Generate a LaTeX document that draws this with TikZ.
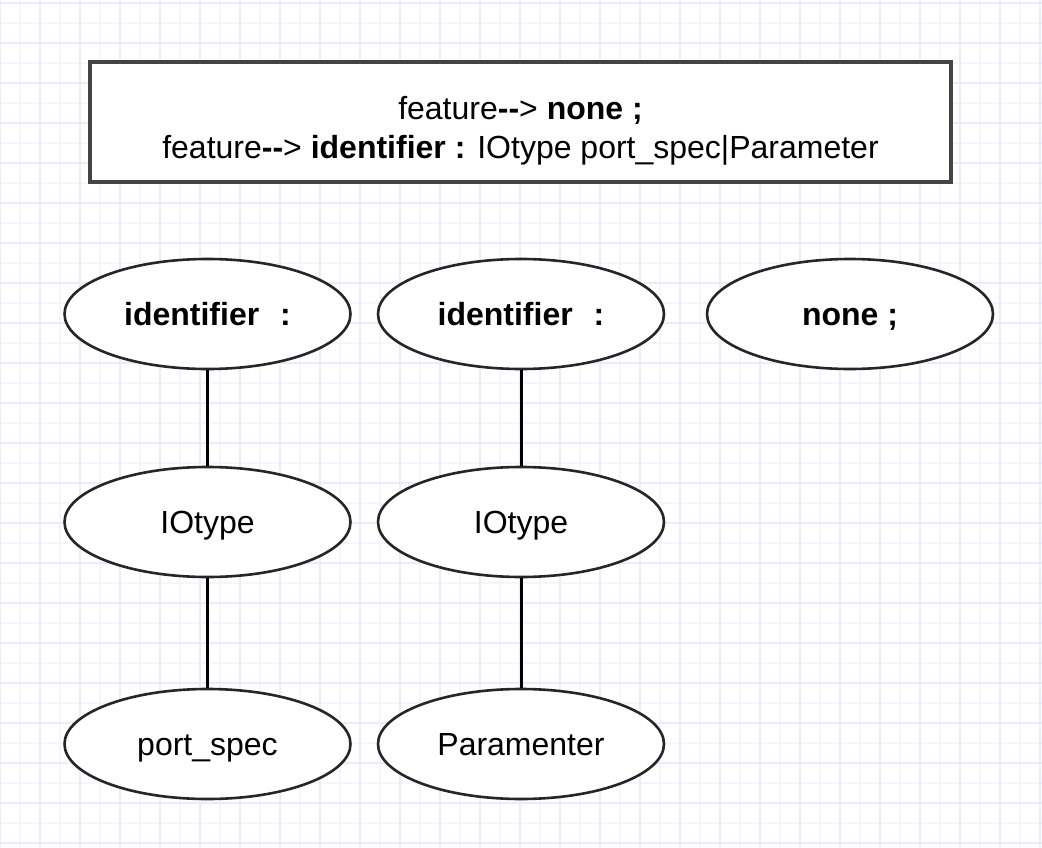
\documentclass[tikz,border=0pt]{standalone}
\usepackage{fontspec}
\setmainfont{Liberation Sans}
\usetikzlibrary{shapes.geometric}
\definecolor{gridminor}{RGB}{246,245,255}
\definecolor{gridmajor}{RGB}{236,234,253}
\definecolor{boxline}{RGB}{68,68,68}
\begin{document}
\begin{tikzpicture}[x=1pt, y=-1pt,
	oval/.style = {ellipse, draw = black!85, line width = 2.6pt, fill = white,
		minimum width = 286pt, minimum height = 110pt, inner sep = 0pt,
		text height = 23pt, text depth = 0pt,
		font = \fontsize{32}{38}\selectfont},
	link/.style = {line width = 3pt}]
		\useasboundingbox (0,0) rectangle (1042,848);
		\fill [white] (0,0) rectangle (1042,848);
		
		% grid
		\foreach \x in {20,60,...,1040} \draw [gridminor, line width = 1.8pt] (\x,0) -- (\x,848);
		\foreach \y in {23,63,...,848} \draw [gridminor, line width = 1.8pt] (0,\y) -- (1042,\y);
		\foreach \x in {0,40,...,1040} \draw [gridmajor, line width = 1.8pt] (\x,0) -- (\x,848);
		\foreach \y in {3,43,...,848} \draw [gridmajor, line width = 1.8pt] (0,\y) -- (1042,\y);
		
		\node (F) at (520.5,122) [draw = boxline, line width = 4pt, fill = white,
			minimum width = 861pt, minimum height = 120pt, align = center,
			font = \fontsize{32}{39}\selectfont]
			{\rule{0pt}{40pt}feature\textbf{-{}-}> \textbf{none ;}\\
			 feature\textbf{-{}-}> \textbf{identifier :} IOtype port\_spec|Parameter};
		
		\node (Id1) at (207.5,314) [oval] {\textbf{identifier\hspace{21pt}:}};
		\node (Id2) at (521,314) [oval] {\textbf{identifier\hspace{21pt}:}};
		\node (No) at (850,314) [oval] {\textbf{none ;}};
		
		\node (IO1) at (207.5,522) [oval] {IOtype};
		\node (IO2) at (521,522) [oval] {IOtype};
		
		\node (Ps) at (207.5,744) [oval] {port\_spec};
		\node (Pa) at (521,744) [oval] {Paramenter};
		
		\draw [link] (Id1) -- (IO1) -- (Ps);
		\draw [link] (Id2) -- (IO2) -- (Pa);
		\end{tikzpicture}
\end{document}
